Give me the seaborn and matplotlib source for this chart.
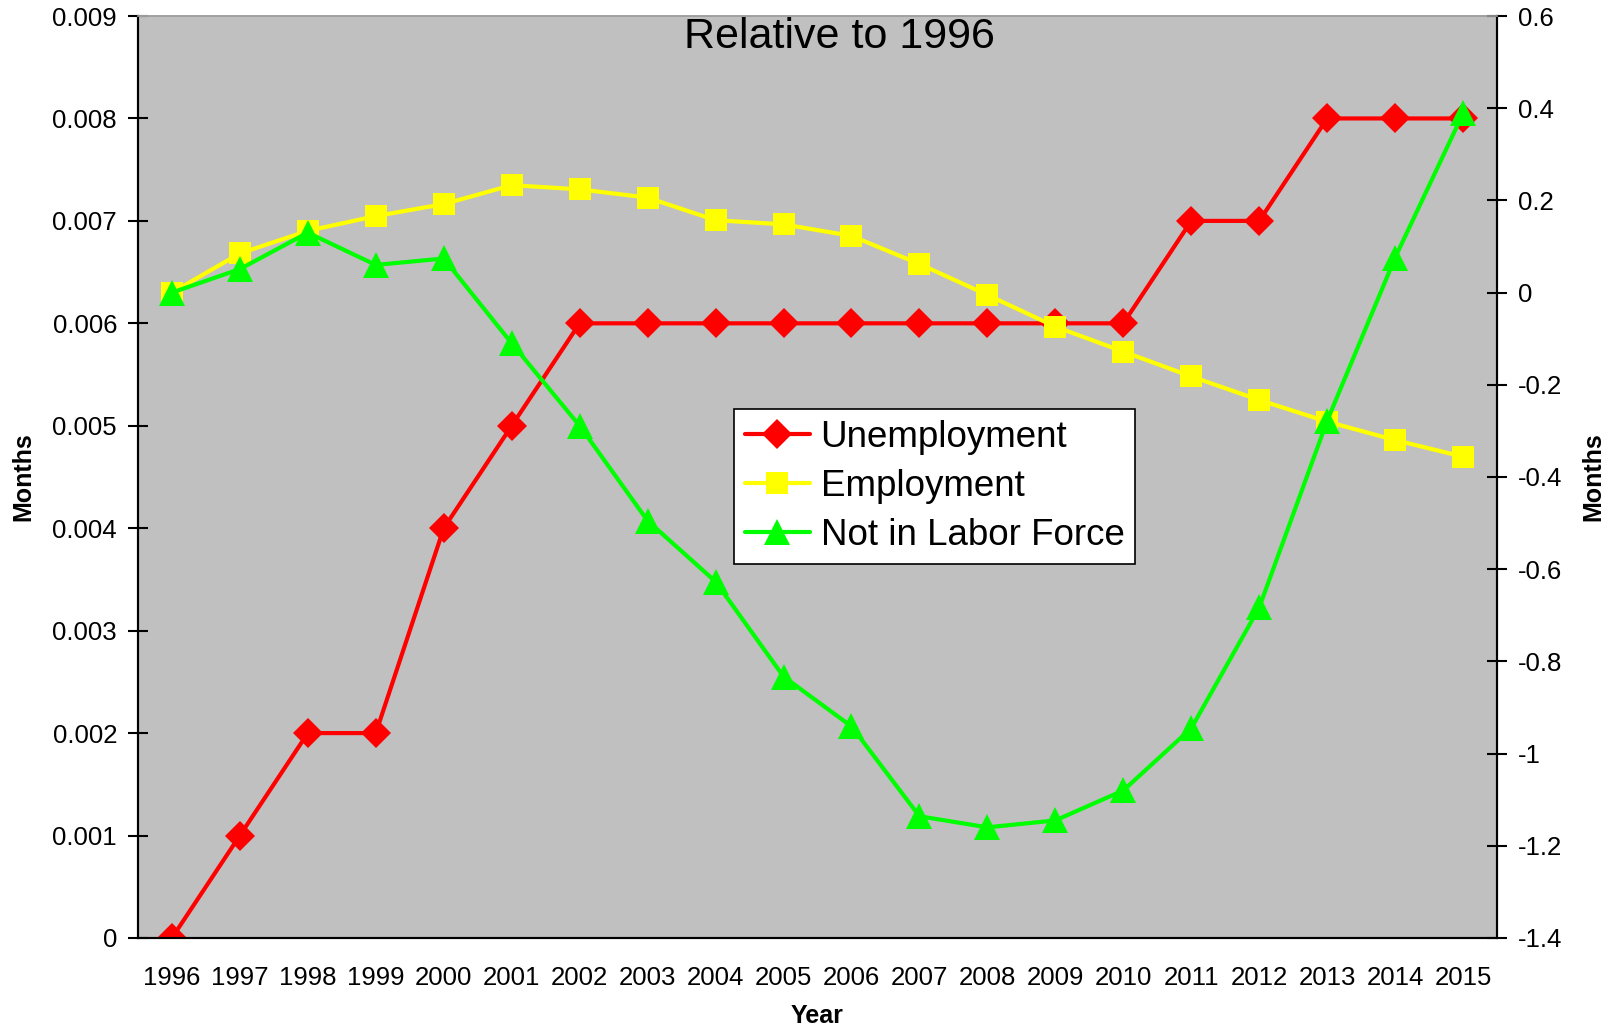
import numpy as np
import pandas as pd
import matplotlib
matplotlib.use('Agg')
import matplotlib.pyplot as plt
import seaborn as sns

# Data
years = list(range(1996, 2016))
unemployment = [0, 0.001, 0.002, 0.002, 0.004, 0.005, 0.006, 0.006, 0.006, 0.006,
                0.006, 0.006, 0.006, 0.006, 0.006, 0.007, 0.007, 0.008, 0.008, 0.008]
employment = [0.0, 0.085, 0.134, 0.166, 0.192, 0.233, 0.224, 0.206, 0.157, 0.148,
              0.123, 0.062, -0.005, -0.074, -0.128, -0.182, -0.233, -0.280, -0.320, -0.356]
not_in_lf = [0.0, 0.051, 0.130, 0.060, 0.074, -0.110, -0.289, -0.495, -0.627, -0.833,
             -0.941, -1.136, -1.160, -1.145, -1.080, -0.945, -0.683, -0.278, 0.076, 0.389]
left_ticks = [0, 0.001, 0.002, 0.003, 0.004, 0.005, 0.006, 0.007, 0.008, 0.009]
left_labels = ['0', '0.001', '0.002', '0.003', '0.004', '0.005', '0.006', '0.007', '0.008', '0.009']
right_ticks = [-1.4, -1.2, -1.0, -0.8, -0.6, -0.4, -0.2, 0, 0.2, 0.4, 0.6]
right_labels = ['-1.4', '-1.2', '-1', '-0.8', '-0.6', '-0.4', '-0.2', '0', '0.2', '0.4', '0.6']

df = pd.DataFrame({'Year': years, 'Unemployment': unemployment,
                   'Employment': employment, 'Not in Labor Force': not_in_lf})

sns.set_style('white')
plt.rcParams['font.family'] = ['Liberation Sans', 'DejaVu Sans']
plt.rcParams['text.color'] = 'black'
plt.rcParams['axes.labelcolor'] = 'black'
plt.rcParams['xtick.color'] = 'black'
plt.rcParams['ytick.color'] = 'black'

fig = plt.figure(figsize=(16.15, 10.33), dpi=100)
ax = fig.add_axes([0.0854, 0.092, 0.8416, 0.8925])
ax.set_facecolor('#C0C0C0')
ax2 = ax.twinx()

sns.lineplot(data=df, x='Year', y='Unemployment', ax=ax, color='#FF0000', linewidth=3,
             marker='D', markersize=15, markeredgewidth=0, label='Unemployment', legend=False)
sns.lineplot(data=df, x='Year', y='Employment', ax=ax2, color='#FFFF00', linewidth=3,
             marker='s', markersize=16, markeredgewidth=0, label='Employment', legend=False)
sns.lineplot(data=df, x='Year', y='Not in Labor Force', ax=ax2, color='#00FF00', linewidth=3,
             marker='^', markersize=19, markeredgewidth=0, label='Not in Labor Force', legend=False)

ax.set_xlim(1995.5, 2015.5)
ax.set_ylim(0, 0.009)
ax2.set_ylim(-1.4, 0.6)
ax.set_yticks(left_ticks)
ax.set_yticklabels(left_labels)
ax2.set_yticks(right_ticks)
ax2.set_yticklabels(right_labels)

ax.set_xticks(years)
ax.set_xticklabels([str(y) for y in years])
ax.set_xticks(np.arange(1995.5, 2016, 1), minor=True)
ax.tick_params(axis='x', which='major', length=0, labelsize=18.5, pad=20)
ax.tick_params(axis='x', which='minor', length=9, width=1.5, direction='out', color='black')
ax.tick_params(axis='y', length=14, width=1.5, direction='inout', labelsize=18.5, pad=8, color='black')
ax2.tick_params(axis='y', length=14, width=1.5, direction='inout', labelsize=18.5, pad=8, color='black')

for a in (ax, ax2):
    for side in ('left', 'right', 'bottom'):
        a.spines[side].set_color('black')
        a.spines[side].set_linewidth(1.5)
    a.spines['top'].set_color('#A0A0A0')
    a.spines['top'].set_linewidth(1.2)

ax.set_xlabel('Year', fontsize=18, fontweight='bold', labelpad=10)
ax.set_ylabel('Months', fontsize=18, fontweight='bold', labelpad=12)
ax2.set_ylabel('Months', fontsize=18, fontweight='bold', labelpad=14)

fig.text(0.52, 0.964, 'Relative to 1996', fontsize=31, ha='center', va='center')

h1, l1 = ax.get_legend_handles_labels()
h2, l2 = ax2.get_legend_handles_labels()
leg = ax2.legend(h1 + h2, l1 + l2, loc='upper left', bbox_to_anchor=(0.4386, 0.5738),
                 borderaxespad=0, fontsize=26.5, frameon=True, fancybox=False,
                 edgecolor='black', facecolor='white', framealpha=1,
                 handlelength=1.75, handletextpad=0.3, labelspacing=0.38, borderpad=0.3)
leg.get_frame().set_linewidth(1.2)

fig.savefig('out.png', dpi=100)
